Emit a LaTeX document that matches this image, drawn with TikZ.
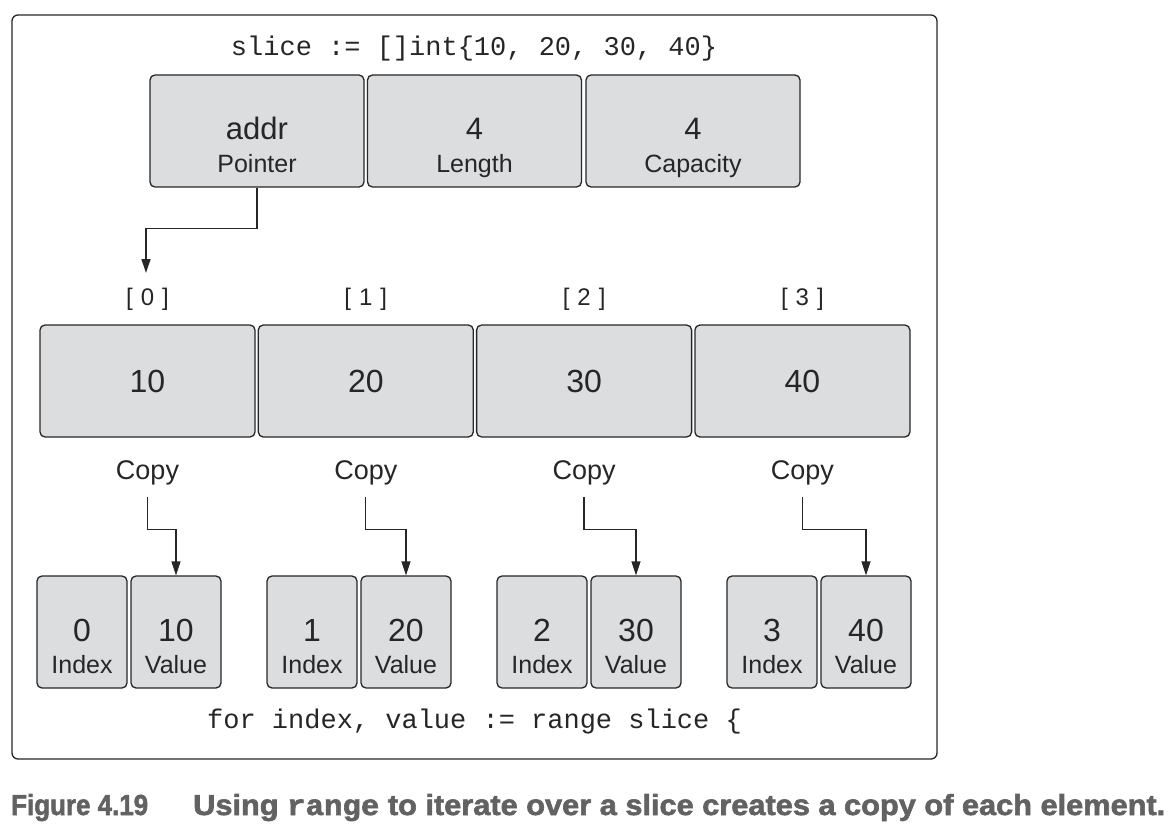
\documentclass[tikz,border=0pt]{standalone}
\usepackage{graphicx}
\usepackage{fontspec}
\setmainfont{Liberation Sans}
\setmonofont{Liberation Mono}
\newfontfamily\capfont{Liberation Sans}[BoldFeatures={FakeBold=2}]
\newfontfamily\capmono{Liberation Mono}[BoldFeatures={FakeBold=2}]
\usetikzlibrary{arrows.meta}
\definecolor{cellgray}{HTML}{DCDDDF}
\definecolor{inkgray}{HTML}{262626}
\definecolor{capgray}{HTML}{626262}
\tikzset{
  cell/.style={draw=inkgray, line width=1.3pt, fill=cellgray, rounded corners=5pt, inner sep=0pt, text=inkgray},
  topbox/.style={cell, minimum width=214pt, minimum height=112pt},
  elbox/.style={cell, minimum width=215pt, minimum height=112pt, font=\fontsize{32}{32}\selectfont},
  pairbox/.style={cell, minimum width=90pt, minimum height=112pt},
  big/.style={anchor=base, inner sep=0pt, text=inkgray, font=\fontsize{31}{31}\selectfont},
  lbl/.style={anchor=base, inner sep=0pt, text=inkgray, font=\fontsize{25}{25}\selectfont},
  cpy/.style={anchor=base, inner sep=0pt, text=inkgray, font=\fontsize{27}{27}\selectfont},
  code/.style={anchor=base, inner sep=0pt, text=inkgray, font=\fontsize{27}{27}\selectfont\ttfamily},
  capline/.style={anchor=base west, inner sep=0pt, text=capgray, font=\capfont\bfseries},
  wire/.style={line width=1.3pt, draw=inkgray},
}
\begin{document}
\begin{tikzpicture}[x=1pt, y=-1pt, >={Triangle[length=14pt,width=9pt]}] %[scale=0.8]
  \useasboundingbox (0,0) rectangle (1176,840);
  \draw [wire, rounded corners=6pt] (12,15) rectangle (937,759);
  \node[code] (decl) at (474,56) {slice := []int\{10, 20, 30, 40\}};
  % slice header
  \node[topbox] (ptr) at (257,131) {};
  \node[topbox] (len) at (474.5,131) {};
  \node[topbox] (cap) at (693,131) {};
  \node[big] (addr) at (257,140) {addr};
  \node[lbl] (ptrl) at (257,173) {Pointer};
  \node[big] (lenv) at (474.5,140) {4};
  \node[lbl] (lenl) at (474.5,173) {Length};
  \node[big] (capv) at (693,140) {4};
  \node[lbl] (capl) at (693,173) {Capacity};
  % backing array
  \node[lbl, font=\fontsize{24}{24}\selectfont] (b0) at (147.5,305) {[\hspace{8pt}0\hspace{8pt}]};
  \node[lbl, font=\fontsize{24}{24}\selectfont] (b1) at (365.8,305) {[\hspace{8pt}1\hspace{8pt}]};
  \node[lbl, font=\fontsize{24}{24}\selectfont] (b2) at (584.1,305) {[\hspace{8pt}2\hspace{8pt}]};
  \node[lbl, font=\fontsize{24}{24}\selectfont] (b3) at (802.4,305) {[\hspace{8pt}3\hspace{8pt}]};
  \node[elbox] (e0) at (147.5,381) {10};
  \node[elbox] (e1) at (365.8,381) {20};
  \node[elbox] (e2) at (584.1,381) {30};
  \node[elbox] (e3) at (802.4,381) {40};
  \coordinate (p0) at (146,273);
  \draw [wire, ->] (ptr.south) -- ++(0,41) -| (p0);
  % copies
  \node[cpy] (c0) at (147.5,479) {Copy};
  \node[cpy] (c1) at (365.8,479) {Copy};
  \node[cpy] (c2) at (584.1,479) {Copy};
  \node[cpy] (c3) at (802.4,479) {Copy};
  \node[pairbox] (i0) at (82,632) {};
  \node[pairbox] (v0) at (176,632) {};
  \node[pairbox] (i1) at (312,632) {};
  \node[pairbox] (v1) at (406,632) {};
  \node[pairbox] (i2) at (542,632) {};
  \node[pairbox] (v2) at (636,632) {};
  \node[pairbox] (i3) at (772,632) {};
  \node[pairbox] (v3) at (866,632) {};
  \node[big, font=\fontsize{32}{32}\selectfont] (i0n) at (82,641) {0};
  \node[big, font=\fontsize{32}{32}\selectfont] (v0n) at (176,641) {10};
  \node[big, font=\fontsize{32}{32}\selectfont] (i1n) at (312,641) {1};
  \node[big, font=\fontsize{32}{32}\selectfont] (v1n) at (406,641) {20};
  \node[big, font=\fontsize{32}{32}\selectfont] (i2n) at (542,641) {2};
  \node[big, font=\fontsize{32}{32}\selectfont] (v2n) at (636,641) {30};
  \node[big, font=\fontsize{32}{32}\selectfont] (i3n) at (772,641) {3};
  \node[big, font=\fontsize{32}{32}\selectfont] (v3n) at (866,641) {40};
  \node[lbl] (i0l) at (82,673) {Index};
  \node[lbl] (v0l) at (176,673) {Value};
  \node[lbl] (i1l) at (312,673) {Index};
  \node[lbl] (v1l) at (406,673) {Value};
  \node[lbl] (i2l) at (542,673) {Index};
  \node[lbl] (v2l) at (636,673) {Value};
  \node[lbl] (i3l) at (772,673) {Index};
  \node[lbl] (v3l) at (866,673) {Value};
  \draw [wire, ->] ([yshift=-12pt]c0.south) -- ++(0,33) -| (v0.north);
  \draw [wire, ->] ([yshift=-12pt]c1.south) -- ++(0,33) -| (v1.north);
  \draw [wire, ->] ([yshift=-12pt]c2.south) -- ++(0,33) -| (v2.north);
  \draw [wire, ->] ([yshift=-12pt]c3.south) -- ++(0,33) -| (v3.north);
  \node[code] (loop) at (474.5,728) {for index, value := range slice \{};
  % caption
  \node[capline] (fig) at (11,815) {\resizebox{137pt}{21pt}{Figure 4.19}};
  \node[capline] (capt) at (193,815) {\resizebox{972pt}{21pt}{Using {\capmono\bfseries range} to iterate over a slice creates a copy of each element.}};
\end{tikzpicture}
\end{document}
